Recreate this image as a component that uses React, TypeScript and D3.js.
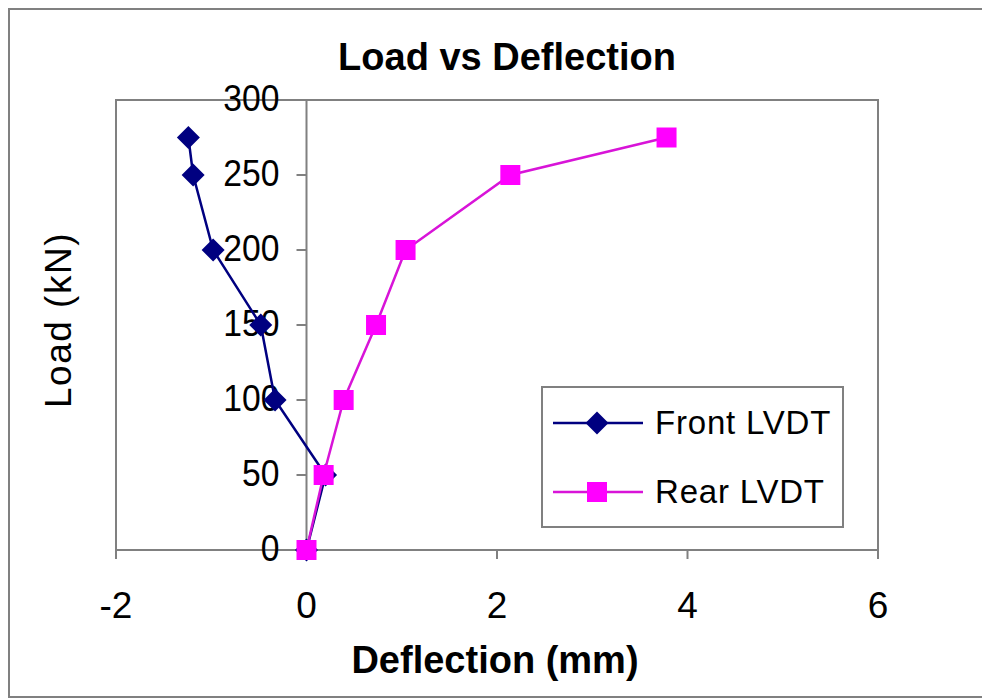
import React from "react";
import * as d3 from "d3";

// Load (kN) recorded at each stage
const loads = [0, 50, 100, 150, 200, 250, 275];
// Deflection (mm) of the two displacement transducers
const frontDeflection = [0, 0.2, -0.33, -0.48, -0.98, -1.19, -1.24];
const rearDeflection = [0, 0.18, 0.39, 0.73, 1.04, 2.14, 3.78];

const xTicks = [-2, 0, 2, 4, 6];
const yTicks = [0, 50, 100, 150, 200, 250, 300];

const seriesNames = ["Front LVDT", "Rear LVDT"];

const W = 982;
const H = 700;
const plot = { left: 116, right: 878, top: 100, bottom: 550 };

const NAVY = "#000080";
const MAGENTA = "#ff00ff";
const MAGENTA_LINE = "#d814d8";
const GRAY = "#808080";
const FONT = "'Liberation Sans', Arial, sans-serif";

function diamondPath(r: number) {
  return `M0,${-r}L${r},0L0,${r}L${-r},0Z`;
}
function squarePath(s: number) {
  const h = s / 2;
  return `M${-h},${-h}H${h}V${h}H${-h}Z`;
}

export default function App() {
  const x = d3.scaleLinear().domain([-2, 6]).range([plot.left, plot.right]);
  const y = d3.scaleLinear().domain([0, 300]).range([plot.bottom, plot.top]);

  const front = loads.map((l, i) => [frontDeflection[i], l] as [number, number]);
  const rear = loads.map((l, i) => [rearDeflection[i], l] as [number, number]);

  const line = d3
    .line<[number, number]>()
    .x((d) => x(d[0]))
    .y((d) => y(d[1]));

  const x0 = x(0);

  return (
    <svg
      width={W}
      height={H}
      style={{ position: "fixed", left: 0, top: 0, background: "#fff", overflow: "hidden" }}
      fontFamily={FONT}
    >
      <rect x={0} y={0} width={W} height={H} fill="#fff" />
      {/* outer chart frame, running past the right edge */}
      <path
        d={`M${W + 50},9H9V697H${W + 50}`}
        fill="none"
        stroke={GRAY}
        strokeWidth={2}
      />

      {/* title */}
      <text x={507} y={70} textAnchor="middle" fontSize={38} fontWeight="bold" fill="#000">
        Load vs Deflection
      </text>

      {/* plot area frame */}
      <rect
        x={plot.left}
        y={plot.top}
        width={plot.right - plot.left}
        height={plot.bottom - plot.top}
        fill="none"
        stroke={GRAY}
        strokeWidth={2}
      />

      {/* x axis */}
      <line x1={plot.left} x2={plot.right} y1={y(0)} y2={y(0)} stroke={GRAY} strokeWidth={2} />
      {xTicks.map((t) => (
        <g key={`xt${t}`}>
          <line x1={x(t)} x2={x(t)} y1={y(0)} y2={y(0) + 9} stroke={GRAY} strokeWidth={2} />
          <text x={x(t)} y={618} textAnchor="middle" fontSize={37} fill="#000">
            {t}
          </text>
        </g>
      ))}

      {/* y axis at x = 0 */}
      <line x1={x0} x2={x0} y1={plot.top} y2={plot.bottom} stroke={GRAY} strokeWidth={2} />
      {yTicks.map((t) => (
        <g key={`yt${t}`}>
          <line x1={x0 - 10} x2={x0} y1={y(t)} y2={y(t)} stroke={GRAY} strokeWidth={2} />
          <text
            transform={`translate(${x0 - 27},${y(t) + 11}) scale(0.91,1)`}
            textAnchor="end"
            fontSize={37}
            fill="#000"
          >
            {t}
          </text>
        </g>
      ))}

      {/* axis titles */}
      <text x={495} y={673} textAnchor="middle" fontSize={38} fontWeight="bold" fill="#000">
        Deflection (mm)
      </text>
      <text
        transform="translate(71,320) rotate(-90)"
        textAnchor="middle"
        fontSize={37}
        letterSpacing={1.5}
        fill="#000"
      >
        Load (kN)
      </text>

      {/* Front LVDT */}
      <path d={line(front) ?? ""} fill="none" stroke={NAVY} strokeWidth={2.5} />
      {front.map((d, i) => (
        <path
          key={`f${i}`}
          d={diamondPath(11.5)}
          transform={`translate(${x(d[0])},${y(d[1])})`}
          fill={NAVY}
        />
      ))}

      {/* Rear LVDT */}
      <path d={line(rear) ?? ""} fill="none" stroke={MAGENTA_LINE} strokeWidth={2.5} />
      {rear.map((d, i) => (
        <path
          key={`r${i}`}
          d={squarePath(20)}
          transform={`translate(${x(d[0])},${y(d[1])})`}
          fill={MAGENTA}
        />
      ))}

      {/* legend */}
      <g>
        <rect x={542} y={387} width={301} height={140} fill="#fff" stroke={GRAY} strokeWidth={2} />
        {seriesNames.map((name, i) => {
          const cy = i === 0 ? 423 : 492;
          const isFront = i === 0;
          return (
            <g key={name}>
              <line
                x1={553}
                x2={643}
                y1={cy}
                y2={cy}
                stroke={isFront ? NAVY : MAGENTA_LINE}
                strokeWidth={2.5}
              />
              <path
                d={isFront ? diamondPath(11.5) : squarePath(20)}
                transform={`translate(597,${cy})`}
                fill={isFront ? NAVY : MAGENTA}
              />
              <text x={655} y={cy + 11} fontSize={33} letterSpacing={0.8} fill="#000">
                {name}
              </text>
            </g>
          );
        })}
      </g>
    </svg>
  );
}
